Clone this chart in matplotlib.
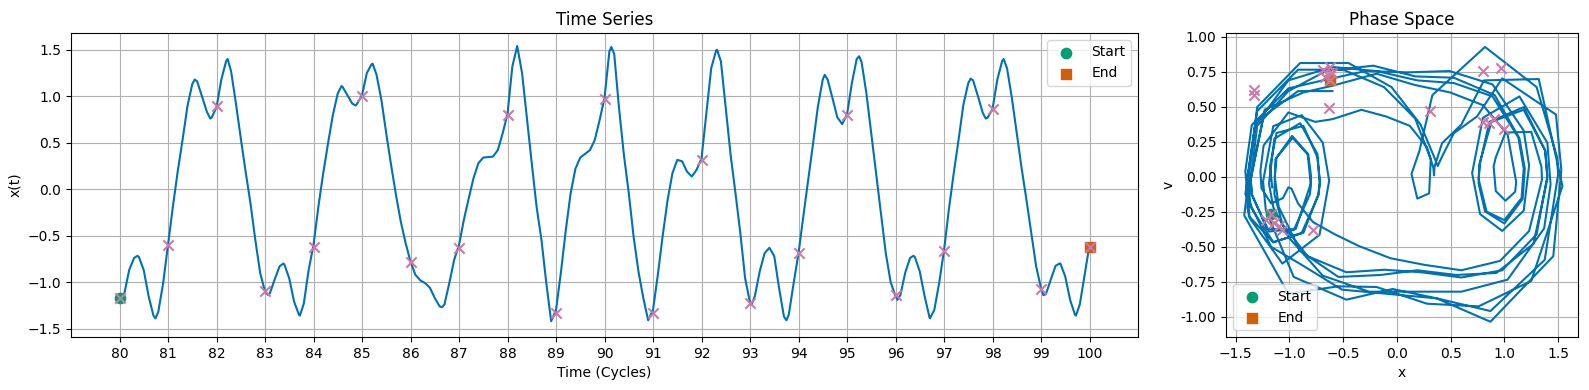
import numpy as np
import matplotlib
matplotlib.use("Agg")
import matplotlib.pyplot as plt

# Digitized trajectory x(t), t in drive cycles
t_cycles = [80.0, 80.05, 80.1, 80.2, 80.3, 80.37, 80.4, 80.5, 80.6, 80.7, 80.74, 80.8, 80.9,
            81.0, 81.1, 81.2, 81.3, 81.4, 81.5, 81.55, 81.6, 81.7, 81.8, 81.87, 81.9,
            82.0, 82.1, 82.2, 82.23, 82.3, 82.4, 82.5, 82.6, 82.7, 82.8, 82.9,
            83.0, 83.06, 83.1, 83.2, 83.3, 83.38, 83.4, 83.5, 83.6, 83.7, 83.72, 83.8, 83.9,
            84.0, 84.1, 84.2, 84.3, 84.4, 84.5, 84.58, 84.6, 84.7, 84.8, 84.87, 84.9,
            85.0, 85.1, 85.2, 85.22, 85.3, 85.4, 85.5, 85.6, 85.7, 85.8, 85.9,
            86.0, 86.1, 86.2, 86.3, 86.4, 86.5, 86.6, 86.65, 86.7, 86.8, 86.9,
            87.0, 87.1, 87.2, 87.3, 87.4, 87.5, 87.6, 87.7, 87.8, 87.9,
            88.0, 88.1, 88.2, 88.3, 88.4, 88.5, 88.6, 88.7, 88.8, 88.9,
            89.0, 89.1, 89.2, 89.3, 89.4, 89.5, 89.6, 89.7, 89.8, 89.9,
            90.0, 90.1, 90.14, 90.2, 90.3, 90.4, 90.5, 90.6, 90.7, 90.8, 90.9,
            91.0, 91.1, 91.2, 91.3, 91.4, 91.5, 91.6, 91.7, 91.8, 91.9,
            92.0, 92.1, 92.2, 92.3, 92.32, 92.4, 92.5, 92.6, 92.7, 92.8, 92.9,
            93.0, 93.03, 93.1, 93.2, 93.3, 93.4, 93.5, 93.6, 93.7, 93.75, 93.8, 93.9,
            94.0, 94.1, 94.2, 94.3, 94.4, 94.5, 94.54, 94.6, 94.7, 94.8, 94.9,
            95.0, 95.1, 95.2, 95.25, 95.3, 95.4, 95.5, 95.6, 95.7, 95.8, 95.9,
            96.0, 96.04, 96.1, 96.2, 96.3, 96.37, 96.4, 96.5, 96.6, 96.7, 96.71, 96.8, 96.9,
            97.0, 97.1, 97.2, 97.3, 97.4, 97.5, 97.55, 97.6, 97.7, 97.8, 97.86, 97.9,
            98.0, 98.1, 98.2, 98.23, 98.3, 98.4, 98.5, 98.6, 98.7, 98.8, 98.9,
            99.0, 99.05, 99.1, 99.2, 99.3, 99.38, 99.4, 99.5, 99.6, 99.7, 99.72, 99.8, 99.9,
            100.0]
x_vals = [-1.16, -1.18, -1.12, -0.87, -0.74, -0.717, -0.73, -0.87, -1.15, -1.36, -1.39, -1.32, -1.01,
          -0.60, -0.19, 0.19, 0.53, 0.89, 1.13, 1.18, 1.16, 1.00, 0.835, 0.76, 0.77,
          0.88, 1.18, 1.38, 1.40, 1.27, 0.925, 0.55, 0.19, -0.15, -0.545, -0.90,
          -1.10, -1.136, -1.12, -0.97, -0.83, -0.80, -0.81, -0.96, -1.21, -1.35, -1.36, -1.23, -0.87,
          -0.60, -0.19, 0.17, 0.495, 0.80, 1.03, 1.11, 1.10, 1.01, 0.92, 0.90, 0.92,
          1.01, 1.25, 1.345, 1.35, 1.23, 0.96, 0.60, 0.26, -0.06, -0.35, -0.58,
          -0.78, -0.92, -0.98, -1.01, -1.06, -1.17, -1.26, -1.27, -1.24, -1.01, -0.76,
          -0.60, -0.33, -0.10, 0.12, 0.28, 0.34, 0.345, 0.35, 0.42, 0.60,
          0.81, 1.32, 1.54, 1.25, 0.76, 0.28, -0.19, -0.545, -1.01, -1.42,
          -1.30, -0.90, -0.45, -0.05, 0.22, 0.34, 0.38, 0.42, 0.53, 0.745,
          0.98, 1.48, 1.53, 1.455, 0.87, 0.37, -0.04, -0.51, -0.885, -1.17, -1.41,
          -1.30, -0.92, -0.50, -0.12, 0.17, 0.315, 0.30, 0.19, 0.136, 0.21,
          0.33, 0.82, 1.30, 1.49, 1.50, 1.375, 0.87, 0.37, -0.04, -0.47, -0.96,
          -1.22, -1.245, -1.15, -0.885, -0.69, -0.63, -0.72, -1.065, -1.37, -1.41, -1.35, -1.01,
          -0.69, -0.29, 0.10, 0.49, 0.89, 1.18, 1.23, 1.18, 0.98, 0.774, 0.70,
          0.80, 1.14, 1.40, 1.43, 1.37, 1.03, 0.60, 0.17, -0.26, -0.69, -1.00,
          -1.15, -1.19, -1.14, -0.90, -0.74, -0.717, -0.73, -0.885, -1.15, -1.376, -1.39, -1.30, -1.01,
          -0.66, -0.22, 0.17, 0.53, 0.91, 1.14, 1.19, 1.17, 1.00, 0.82, 0.76, 0.77,
          0.86, 1.18, 1.38, 1.40, 1.30, 0.98, 0.60, 0.226, -0.115, -0.47, -0.83,
          -1.065, -1.14, -1.13, -0.975, -0.825, -0.80, -0.80, -0.94, -1.19, -1.35, -1.36, -1.24, -0.92,
          -0.60]

# Poincare section (one sample per drive cycle)
section_cycles = list(range(80, 101))
section_x = [-1.17, -0.60, 0.90, -1.10, -0.62, 1.00, -0.78, -0.63, 0.80, -1.33, 0.97,
             -1.33, 0.31, -1.22, -0.69, 0.80, -1.14, -0.67, 0.86, -1.07, -0.62]
section_v = [-0.27, 0.74, 0.41, -0.35, 0.78, 0.34, -0.38, 0.49, 0.755, 0.62, 0.775,
             0.58, 0.47, -0.31, 0.76, 0.39, -0.33, 0.71, 0.38, -0.38, 0.69]

drive_omega = 1.2

line_color = "#0072B2"
mark_color = "#CC79A7"
start_color = "#009E73"
end_color = "#D55E00"

t = np.array(t_cycles)
x = np.array(x_vals)
v = np.gradient(x, t) * drive_omega / (2 * np.pi)

fig = plt.figure(figsize=(15.89, 3.9), dpi=100)
W, H = 1589, 390
ax1 = fig.add_axes([71 / W, 1 - 337 / H, (1138 - 71) / W, (337 - 33) / H])
ax2 = fig.add_axes([1226 / W, 1 - 337 / H, (1578 - 1226) / W, (337 - 33) / H])

# Time series
ax1.plot(t, x, color=line_color, lw=1.5, zorder=2)
ax1.scatter([section_cycles[0]], [section_x[0]], color=start_color, marker="o", s=55,
            label="Start", zorder=3)
ax1.scatter([section_cycles[-1]], [section_x[-1]], color=end_color, marker="s", s=55,
            label="End", zorder=3)
ax1.scatter(section_cycles, section_x, color=mark_color, marker="x", s=55, lw=1.5, zorder=4)
ax1.set_xticks(section_cycles)
ax1.set_xlim(79, 101)
ax1.set_ylim(-1.59, 1.68)
ax1.grid(True)
ax1.set_axisbelow(True)
ax1.set_title("Time Series")
ax1.set_xlabel("Time (Cycles)")
ax1.set_ylabel("x(t)")
ax1.legend(loc="upper right")

# Phase space
ax2.plot(x, v, color=line_color, lw=1.5, zorder=2)
ax2.scatter([section_x[0]], [section_v[0]], color=start_color, marker="o", s=55,
            label="Start", zorder=3)
ax2.scatter([section_x[-1]], [section_v[-1]], color=end_color, marker="s", s=55,
            label="End", zorder=3)
ax2.scatter(section_x, section_v, color=mark_color, marker="x", s=55, lw=1.5, zorder=4)
ax2.set_xlim(-1.59, 1.685)
ax2.set_ylim(-1.145, 1.026)
ax2.set_xticks([-1.5, -1.0, -0.5, 0.0, 0.5, 1.0, 1.5])
ax2.set_yticks([-1.0, -0.75, -0.5, -0.25, 0.0, 0.25, 0.5, 0.75, 1.0])
ax2.yaxis.set_major_formatter(matplotlib.ticker.FormatStrFormatter("%.2f"))
ax2.grid(True)
ax2.set_axisbelow(True)
ax2.set_title("Phase Space")
ax2.set_xlabel("x")
ax2.set_ylabel("v")
ax2.legend(loc="lower left")

fig.savefig("out.png", dpi=100)
